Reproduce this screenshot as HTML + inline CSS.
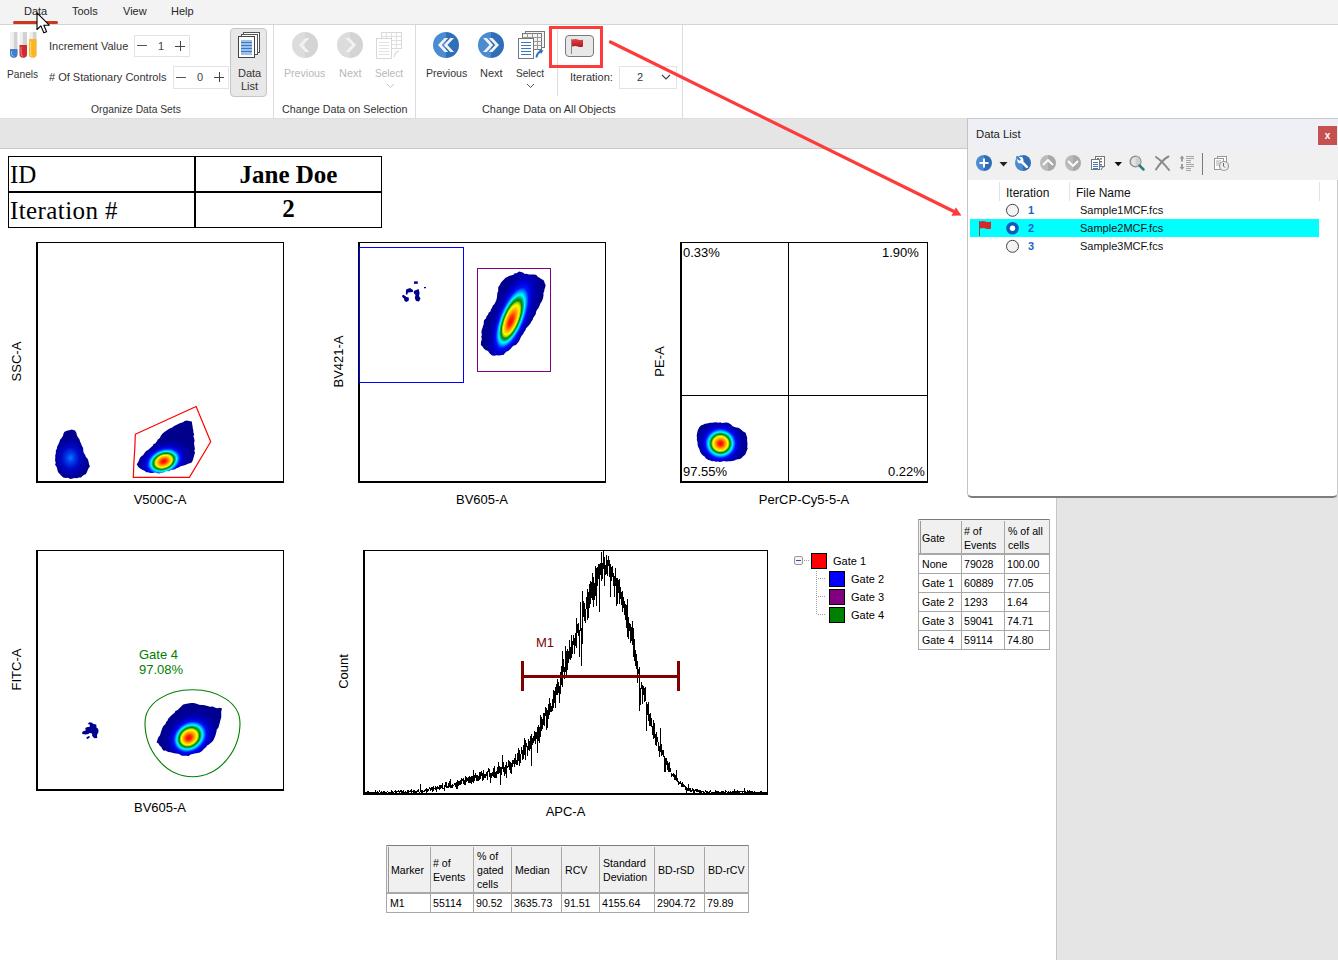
<!DOCTYPE html>
<html><head><meta charset="utf-8">
<style>
html,body{margin:0;padding:0}
body{width:1338px;height:960px;overflow:hidden;position:relative;background:#fff;font-family:"Liberation Sans",sans-serif;color:#222}
.a{position:absolute;white-space:nowrap}
.menu{left:0;top:0;width:1338px;height:24px;background:#f3f3f3;border-bottom:1px solid #d5d5d5}
.ribbon{left:0;top:25px;width:1338px;height:93px;background:#fff;border-bottom:1px solid #dedede}
.graybar{left:0;top:119px;width:1338px;height:29px;background:#e5e5e5;border-bottom:1px solid #c8c8c8}
.rightgray{left:1056px;top:149px;width:282px;height:811px;background:#e5e5e5;border-left:1px solid #c6c6c6}
.mt{font-size:11px;top:5px;color:#262626}
.rt{font-size:11px;color:#333}
.sep{width:1px;background:#dcdcdc}
.spin{border:1px solid #e3e3e3;background:#fff}
.lbl{font-size:13px;color:#000}
.plot{border-left:2px solid #000;border-bottom:2px solid #000;border-top:1px solid #000;border-right:1px solid #000;box-sizing:border-box}
table.g{border-collapse:collapse;font-size:11px;color:#000}
</style></head><body>
<div class="a menu"></div>
<div class="a mt" style="left:24px">Data</div>
<div class="a mt" style="left:72px">Tools</div>
<div class="a mt" style="left:123px">View</div>
<div class="a mt" style="left:171px">Help</div>
<div class="a" style="left:13px;top:21px;width:45px;height:3px;background:#c9391c;border-radius:2px"></div>
<div class="a ribbon"></div>
<div class="a graybar"></div>
<!-- cursor -->
<!-- Panels tubes -->
<svg class="a" style="left:9px;top:31px" width="30" height="29" viewBox="0 0 30 29">
 <defs>
  <linearGradient id="tg" x1="0" x2="1"><stop offset="0" stop-color="#f2f2f2"/><stop offset="0.5" stop-color="#ececec"/><stop offset="0.5" stop-color="#d2d2d2"/><stop offset="1" stop-color="#d2d2d2"/></linearGradient>
 </defs>
 <path d="M1 1h7.5v22a3.75 3.75 0 0 1-7.5 0z" fill="url(#tg)"/>
 <path d="M1 18h7.5v5a3.75 3.75 0 0 1-7.5 0z" fill="#3f80c9"/>
 <path d="M10.5 1h7.5v22a3.75 3.75 0 0 1-7.5 0z" fill="url(#tg)"/>
 <path d="M10.5 14h7.5v9a3.75 3.75 0 0 1-7.5 0z" fill="#cf2a2f"/>
 <path d="M20 1h7.5v22a3.75 3.75 0 0 1-7.5 0z" fill="url(#tg)"/>
 <path d="M20 8h7.5v15a3.75 3.75 0 0 1-7.5 0z" fill="#fbb624"/>
 <path d="M2.6 20v3.2a2.2 2.2 0 0 0 2 2" stroke="#fff" stroke-opacity=".45" fill="none" stroke-width="1"/>
 <path d="M12.1 16v7.2a2.2 2.2 0 0 0 2 2" stroke="#fff" stroke-opacity=".45" fill="none" stroke-width="1"/>
 <path d="M21.6 10v13.2a2.2 2.2 0 0 0 2 2" stroke="#fff" stroke-opacity=".45" fill="none" stroke-width="1"/>
</svg>
<div class="a rt" style="left:7px;top:69px;font-size:10.2px">Panels</div>
<div class="a rt" style="left:49px;top:40px">Increment Value</div>
<div class="a rt" style="left:49px;top:71px"># Of Stationary Controls</div>
<div class="a spin" style="left:134px;top:35px;width:54px;height:20px"></div>
<div class="a" style="left:137px;top:45px;width:10px;height:1px;background:#555"></div>
<div class="a rt" style="left:158px;top:40px;color:#444">1</div>
<div class="a" style="left:175px;top:46px;width:10px;height:1px;background:#444"></div>
<div class="a" style="left:180px;top:41px;width:1px;height:10px;background:#444"></div>
<div class="a spin" style="left:173px;top:66px;width:54px;height:21px"></div>
<div class="a" style="left:176px;top:77px;width:10px;height:1px;background:#555"></div>
<div class="a rt" style="left:197px;top:71px;color:#444">0</div>
<div class="a" style="left:214px;top:77px;width:10px;height:1px;background:#444"></div>
<div class="a" style="left:219px;top:72px;width:1px;height:10px;background:#444"></div>
<div class="a" style="left:230px;top:28px;width:35px;height:67px;background:#e8e8e8;border:1px solid #c6c6c6;border-radius:4px"></div>
<svg class="a" style="left:237px;top:31px" width="24" height="28" viewBox="0 0 24 28">
 <rect x="6.5" y="1.5" width="16" height="20" fill="#fff" stroke="#555"/>
 <rect x="4.5" y="3.5" width="16" height="20" fill="#fff" stroke="#555"/>
 <rect x="1.5" y="5.5" width="16" height="21" fill="#fff" stroke="#444"/>
 <rect x="4" y="9" width="11" height="15" fill="#9cc0e8"/>
 <g stroke="#3b78c4" stroke-width="1"><path d="M4 11.5h11M4 14.5h11M4 17.5h11M4 20.5h11"/></g>
</svg>
<div class="a rt" style="left:238px;top:67px">Data</div>
<div class="a rt" style="left:241px;top:80px">List</div>
<div class="a rt" style="left:91px;top:104px;font-size:10.3px">Organize Data Sets</div>
<div class="a sep" style="left:273px;top:25px;height:93px"></div>
<!-- group 2 disabled -->
<svg class="a" style="left:292px;top:32px" width="26" height="26" viewBox="0 0 26 26">
 <path d="M13 0a13 13 0 0 0 0 26z" fill="#dcdcdc"/><path d="M13 0a13 13 0 0 1 0 26z" fill="#d4d4d4"/>
 <path d="M13.5 6 L7 13 L13.5 20 L17.5 20 L11 13 L17.5 6z" fill="#f2f2f2"/>
</svg>
<svg class="a" style="left:337px;top:32px" width="26" height="26" viewBox="0 0 26 26">
 <path d="M13 0a13 13 0 0 0 0 26z" fill="#dcdcdc"/><path d="M13 0a13 13 0 0 1 0 26z" fill="#d4d4d4"/>
 <path d="M12.5 6 L19 13 L12.5 20 L8.5 20 L15 13 L8.5 6z" fill="#f2f2f2"/>
</svg>
<svg class="a" style="left:375px;top:32px" width="28" height="27" viewBox="0 0 28 27">
 <g fill="#fff" stroke="#d8d8d8"><rect x="6.5" y="0.5" width="20" height="16"/></g>
 <g stroke="#e0e0e0"><path d="M6.5 4.5h20M6.5 8.5h20M6.5 12.5h20M11.5 .5v16M16.5 .5v16M21.5 .5v16"/></g>
 <rect x="1.5" y="6.5" width="15" height="20" fill="#fff" stroke="#d8d8d8"/>
 <g stroke="#e2e2e2"><path d="M4 10.5h10M4 13.5h10M4 16.5h10M4 19.5h10M4 22.5h10"/></g>
 <path d="M19 25 q1-5 5-6" stroke="#e0e0e0" stroke-width="1.5" fill="none"/>
</svg>
<div class="a rt" style="left:284px;top:67px;color:#b8b8b8;font-size:10.6px">Previous</div>
<div class="a rt" style="left:339px;top:67px;color:#b8b8b8">Next</div>
<div class="a rt" style="left:375px;top:68px;color:#b8b8b8;font-size:10.1px">Select</div>
<svg class="a" style="left:386px;top:83px" width="9" height="6"><path d="M1 1l3.5 3.5L8 1" stroke="#c8c8c8" fill="none"/></svg>
<div class="a rt" style="left:282px;top:103px;font-size:10.75px">Change Data on Selection</div>
<div class="a sep" style="left:415px;top:25px;height:93px"></div>
<!-- group 3 -->
<svg class="a" style="left:433px;top:32px" width="26" height="26" viewBox="0 0 26 26">
 <path d="M13 0a13 13 0 0 0 0 26z" fill="#4a8bd2"/><path d="M13 0a13 13 0 0 1 0 26z" fill="#2f6fb8"/>
 <path d="M11.5 6 L5 13 L11.5 20 L15.2 20 L8.7 13 L15.2 6z" fill="#f2f2f2"/>
 <path d="M17.3 6 L10.8 13 L17.3 20 L21 20 L14.5 13 L21 6z" fill="#f2f2f2"/>
</svg>
<svg class="a" style="left:478px;top:32px" width="26" height="26" viewBox="0 0 26 26">
 <path d="M13 0a13 13 0 0 0 0 26z" fill="#4a8bd2"/><path d="M13 0a13 13 0 0 1 0 26z" fill="#2f6fb8"/>
 <path d="M14.5 6 L21 13 L14.5 20 L10.8 20 L17.3 13 L10.8 6z" fill="#f2f2f2"/>
 <path d="M8.7 6 L15.2 13 L8.7 20 L5 20 L11.5 13 L5 6z" fill="#f2f2f2"/>
</svg>
<svg class="a" style="left:517px;top:31px" width="29" height="28" viewBox="0 0 29 28">
 <g fill="#f4f4f4" stroke="#777"><rect x="8.5" y="0.5" width="19" height="16"/><rect x="5.5" y="2.5" width="19" height="16"/></g>
 <g stroke="#999"><path d="M5.5 6.5h19M5.5 10.5h19M5.5 14.5h19M10.5 2.5v16M15.5 2.5v16M20.5 2.5v16"/></g>
 <rect x="1.5" y="7.5" width="15" height="20" fill="#fff" stroke="#777"/>
 <g stroke="#3b78c4"><path d="M4 11.5h10M4 14.5h10M4 17.5h10M4 20.5h10M4 23.5h10"/></g>
 <path d="M19.5 26.5 q.5-5 5-6.5" stroke="#2f73c4" stroke-width="2" fill="none"/><path d="M22 18.5l4.5 1-2.5 3.5z" fill="#2f73c4"/>
</svg>
<div class="a rt" style="left:426px;top:67px;font-size:10.6px">Previous</div>
<div class="a rt" style="left:480px;top:67px">Next</div>
<div class="a rt" style="left:516px;top:68px;font-size:10.1px">Select</div>
<svg class="a" style="left:526px;top:83px" width="9" height="6"><path d="M1 1l3.5 3.5L8 1" stroke="#555" fill="none"/></svg>
<div class="a rt" style="left:482px;top:103px;font-size:10.9px">Change Data on All Objects</div>
<div class="a sep" style="left:557px;top:30px;height:66px"></div>
<div class="a" style="left:565px;top:35px;width:27px;height:20px;background:#e8e8e8;border:1px solid #7a7a7a;border-radius:4px"></div>
<svg class="a" style="left:570px;top:38px" width="16" height="17" viewBox="0 0 16 17">
 <defs><linearGradient id="fl" x1="0" y1="0" x2="0" y2="1"><stop offset="0" stop-color="#e0454b"/><stop offset="1" stop-color="#b8141c"/></linearGradient></defs>
 <rect x="1" y="1" width="1" height="15" fill="#888"/>
 <path d="M2 1.5 q3-1 6 0 t5 0 v7 q-2.5 1-5 0 t-6 0z" fill="url(#fl)"/>
</svg>
<div class="a" style="left:549px;top:26px;width:48px;height:36px;border:3px solid #ff3a3a"></div>
<div class="a rt" style="left:570px;top:71px">Iteration:</div>
<div class="a spin" style="left:619px;top:66px;width:56px;height:21px"></div>
<div class="a rt" style="left:637px;top:71px;color:#333">2</div>
<svg class="a" style="left:661px;top:74px" width="10" height="7"><path d="M1 1l4 4 4-4" stroke="#444" fill="none" stroke-width="1.2"/></svg>
<div class="a sep" style="left:682px;top:25px;height:93px"></div>

<div class="a rightgray"></div>

<!-- Data List panel -->
<div class="a" style="left:967px;top:118px;width:369px;height:377px;background:#fff;border-left:1px solid #c4c4c4;border-right:1px solid #c8c8c8;border-top:1px solid #c8c8c8;border-bottom:2px solid #7e7e7e;border-radius:0 0 5px 5px"></div>
<div class="a" style="left:968px;top:119px;width:370px;height:30px;background:#eff0f5"></div>
<div class="a" style="left:976px;top:128px;font-size:11.3px;color:#1a1a1a">Data List</div>
<div class="a" style="left:1318px;top:126px;width:19px;height:19px;background:#c64f50"></div>
<div class="a" style="left:1318px;top:128px;width:19px;text-align:center;font-size:10px;font-weight:bold;color:#fff;line-height:16px">x</div>
<div class="a" style="left:968px;top:149px;width:370px;height:31px;background:#f0f0f0"></div>
<svg class="a" style="left:968px;top:149px" width="370" height="32" viewBox="968 149 370 32">
 <path d="M984 155a8 8 0 0 0 0 16z" fill="#4b8bd3"/><path d="M984 155a8 8 0 0 1 0 16z" fill="#2f6db5"/>
 <path d="M983 158.5h2v3.5h3.5v2h-3.5v3.5h-2v-3.5h-3.5v-2h3.5z" fill="#fff"/>
 <path d="M999.5 162h8l-4 4.5z" fill="#222"/>
 <path d="M1023 155a8 8 0 0 0 0 16z" fill="#4b8bd3"/><path d="M1023 155a8 8 0 0 1 0 16z" fill="#2f6db5"/>
 <path d="M1021.5 161.5 L1026.8 166.8" stroke="#fff" stroke-width="2.6" stroke-linecap="round"/><circle cx="1020.3" cy="160.2" r="3.1" fill="#fff"/><path d="M1017.2 157.1 L1019.6 159.5" stroke="#3f80c8" stroke-width="2.2" stroke-linecap="round"/>
 <path d="M1048 155a8 8 0 0 0 0 16z" fill="#bababa"/><path d="M1048 155a8 8 0 0 1 0 16z" fill="#a9a9a9"/>
 <path d="M1043 165l5-5 5 5" stroke="#fff" stroke-width="1.8" fill="none"/>
 <path d="M1073 155a8 8 0 0 0 0 16z" fill="#bababa"/><path d="M1073 155a8 8 0 0 1 0 16z" fill="#a9a9a9"/>
 <path d="M1068 161l5 5 5-5" stroke="#fff" stroke-width="1.8" fill="none"/>
 <rect x="1095.5" y="156.5" width="9" height="10" fill="#fff" stroke="#777"/>
 <g fill="#777"><rect x="1097" y="158" width="2" height="1.5"/><rect x="1100" y="158" width="2" height="1.5"/><rect x="1100" y="161" width="2" height="1.5"/><rect x="1100" y="164" width="2" height="1.5"/></g>
 <rect x="1091.5" y="159.5" width="8" height="10" fill="#fff" stroke="#777"/>
 <g stroke="#3b78c4"><path d="M1093 162.5h5M1093 164.5h5M1093 166.5h5M1093 168.5h5"/></g>
 <path d="M1101 170q1-3 3-3.5" stroke="#3b78c4" fill="none"/>
 <path d="M1114.5 162h7.5l-3.75 4.2z" fill="#111"/>
 <circle cx="1135.5" cy="161.5" r="5.3" fill="#e4e4e4" stroke="#8e8e8e" stroke-width="1.5"/>
 <path d="M1135.5 156.5a5 5 0 0 1 0 10z" fill="#cfcfcf"/>
 <path d="M1139.5 165.5l4 4" stroke="#2e7f7b" stroke-width="2.5" stroke-linecap="round"/>
 <path d="M1156 157q6 4 13 13M1168.5 156.5q-6 3-12.5 13" stroke="#8a8a8a" stroke-width="2" fill="none" stroke-linecap="round"/>
 <path d="M1182 155.5l2.5 3h-1.5v3h-2v-3h-1.5z M1182 170l2.5-3h-1.5v-3h-2v3h-1.5z" fill="#9a9a9a"/>
 <g stroke="#a6a6a6"><path d="M1186 156.5h8M1186 158.5h8M1186 160.5h5M1186 162.5h5M1186 164.5h8M1186 166.5h8M1186 168.5h5M1186 170.5h5"/></g>
 <rect x="1202" y="153" width="1" height="22" fill="#7a7a7a"/>
 <rect x="1217.5" y="156.5" width="9" height="10" fill="#fff" stroke="#999"/>
 <rect x="1214.5" y="158.5" width="9" height="11" fill="#fff" stroke="#999"/>
 <g stroke="#aaa"><path d="M1216 161h5M1216 163h5M1216 165h4"/></g>
 <circle cx="1224" cy="166" r="4.5" fill="#eee" stroke="#999" stroke-width="1.2"/>
 <path d="M1223.5 163v3l1.5 1.5" stroke="#666" fill="none"/>
</svg>
<div class="a" style="left:999px;top:182px;width:1px;height:19px;background:#e2e2e2"></div>
<div class="a" style="left:1069px;top:182px;width:1px;height:19px;background:#e2e2e2"></div>
<div class="a" style="left:1319px;top:182px;width:1px;height:19px;background:#e2e2e2"></div>
<div class="a" style="left:1006px;top:186px;font-size:12px;color:#111">Iteration</div>
<div class="a" style="left:1076px;top:186px;font-size:12px;color:#111">File Name</div>
<div class="a" style="left:970px;top:219px;width:349px;height:18px;background:#00ffff"></div>
<svg class="a" style="left:968px;top:200px" width="120" height="60" viewBox="968 200 120 60">
 <circle cx="1012.5" cy="210.3" r="6" fill="#f4f4f4" stroke="#444" stroke-width="1"/>
 <circle cx="1012.5" cy="228.3" r="6.3" fill="#0f5bb5"/>
 <circle cx="1012.5" cy="228.3" r="2.7" fill="#fff"/>
 <circle cx="1012.5" cy="246.3" r="6" fill="#f4f4f4" stroke="#444" stroke-width="1"/>
 <rect x="979" y="221" width="1" height="15" fill="#7a5050"/>
 <path d="M980 221.5q3-1 5.5 0t5.5 0v7q-2.7 1-5.5 0t-5.5 0z" fill="#d42a2a"/>
</svg>
<div class="a" style="left:1028px;top:204px;font-size:11px;font-weight:bold;color:#1a64d2">1</div>
<div class="a" style="left:1028px;top:222px;font-size:11px;font-weight:bold;color:#1a64d2">2</div>
<div class="a" style="left:1028px;top:240px;font-size:11px;font-weight:bold;color:#1a64d2">3</div>
<div class="a" style="left:1080px;top:204px;font-size:11px;color:#111">Sample1MCF.fcs</div>
<div class="a" style="left:1080px;top:222px;font-size:11px;color:#111">Sample2MCF.fcs</div>
<div class="a" style="left:1080px;top:240px;font-size:11px;color:#111">Sample3MCF.fcs</div>
<!-- arrow -->
<svg class="a" style="left:0;top:0" width="1338" height="960" viewBox="0 0 1338 960">
 <line x1="610.5" y1="42" x2="955" y2="212" stroke="#fe3b3b" stroke-width="3.2" stroke-linecap="round"/>
 <path d="M961.5 215.5 L951.5 215.8 L955.8 207.2z" fill="#fe3b3b"/>
</svg>
<!--PLOTS--><svg class="a" style="left:0;top:0" width="1338" height="960" viewBox="0 0 1338 960"><defs><radialGradient id="g1a" gradientUnits="userSpaceOnUse" cx="0" cy="0" r="1" fx="0" fy="0" gradientTransform="translate(70.5 458) rotate(0) scale(18 22)"><stop offset="0" stop-color="#0080ff"/><stop offset="0.2" stop-color="#0040f0"/><stop offset="0.5" stop-color="#0008c4"/><stop offset="0.8" stop-color="#0000a0"/><stop offset="1" stop-color="#00008c"/></radialGradient><radialGradient id="g1b" gradientUnits="userSpaceOnUse" cx="0" cy="0" r="1" fx="0" fy="0" gradientTransform="translate(163.8 461.3) rotate(-22) scale(30 21)"><stop offset="0.0" stop-color="#ff0000"/><stop offset="0.09" stop-color="#ff2800"/><stop offset="0.19" stop-color="#ffa000"/><stop offset="0.27" stop-color="#ffff00"/><stop offset="0.315" stop-color="#90d000"/><stop offset="0.35" stop-color="#008400"/><stop offset="0.395" stop-color="#00b080"/><stop offset="0.44" stop-color="#00ffff"/><stop offset="0.49" stop-color="#00a0ff"/><stop offset="0.56" stop-color="#0010ff"/><stop offset="0.66" stop-color="#0000cc"/><stop offset="0.8" stop-color="#0000a4"/><stop offset="1.0" stop-color="#00008c"/></radialGradient><radialGradient id="g2" gradientUnits="userSpaceOnUse" cx="0" cy="0" r="1" fx="-0.14" fy="0" gradientTransform="translate(513.5 314.5) rotate(-68) scale(58 21)"><stop offset="0.0" stop-color="#ff0000"/><stop offset="0.09" stop-color="#ff2800"/><stop offset="0.19" stop-color="#ffa000"/><stop offset="0.27" stop-color="#ffff00"/><stop offset="0.315" stop-color="#90d000"/><stop offset="0.35" stop-color="#008400"/><stop offset="0.395" stop-color="#00b080"/><stop offset="0.44" stop-color="#00ffff"/><stop offset="0.49" stop-color="#00a0ff"/><stop offset="0.56" stop-color="#0010ff"/><stop offset="0.66" stop-color="#0000cc"/><stop offset="0.8" stop-color="#0000a4"/><stop offset="1.0" stop-color="#00008c"/></radialGradient><radialGradient id="g3" gradientUnits="userSpaceOnUse" cx="0" cy="0" r="1" fx="0" fy="0" gradientTransform="translate(720.5 443.5) rotate(0) scale(27 26)"><stop offset="0.0" stop-color="#ff0000"/><stop offset="0.09" stop-color="#ff2800"/><stop offset="0.19" stop-color="#ffa000"/><stop offset="0.27" stop-color="#ffff00"/><stop offset="0.315" stop-color="#90d000"/><stop offset="0.35" stop-color="#008400"/><stop offset="0.395" stop-color="#00b080"/><stop offset="0.44" stop-color="#00ffff"/><stop offset="0.49" stop-color="#00a0ff"/><stop offset="0.56" stop-color="#0010ff"/><stop offset="0.66" stop-color="#0000cc"/><stop offset="0.8" stop-color="#0000a4"/><stop offset="1.0" stop-color="#00008c"/></radialGradient><radialGradient id="g4" gradientUnits="userSpaceOnUse" cx="0" cy="0" r="1" fx="-0.1" fy="0" gradientTransform="translate(191 736) rotate(-38) scale(31 25)"><stop offset="0.0" stop-color="#ff0000"/><stop offset="0.09" stop-color="#ff2800"/><stop offset="0.19" stop-color="#ffa000"/><stop offset="0.27" stop-color="#ffff00"/><stop offset="0.315" stop-color="#90d000"/><stop offset="0.35" stop-color="#008400"/><stop offset="0.395" stop-color="#00b080"/><stop offset="0.44" stop-color="#00ffff"/><stop offset="0.49" stop-color="#00a0ff"/><stop offset="0.56" stop-color="#0010ff"/><stop offset="0.66" stop-color="#0000cc"/><stop offset="0.8" stop-color="#0000a4"/><stop offset="1.0" stop-color="#00008c"/></radialGradient></defs><rect x="36" y="242" width="248" height="1" fill="#000"/><rect x="36" y="242" width="2" height="241" fill="#000"/><rect x="283" y="242" width="1" height="241" fill="#000"/><rect x="36" y="481" width="248" height="2" fill="#000"/><path d="M71.7 429.5 L69.5 430.3 L67.5 430.4 L64.5 431.8 L63.5 433.4 L63.0 435.7 L61.6 437.9 L60.1 439.7 L59.1 442.7 L58.0 444.9 L57.2 446.6 L56.8 449.1 L55.8 450.5 L55.9 453.0 L55.2 455.4 L55.3 457.4 L55.1 459.3 L55.2 461.4 L55.8 462.6 L55.1 464.7 L56.8 467.3 L57.3 469.5 L58.0 471.9 L59.5 473.8 L61.4 475.7 L63.2 477.4 L65.7 478.0 L67.8 477.7 L70.4 479.0 L72.7 478.4 L74.7 478.0 L77.1 478.2 L78.8 477.6 L81.1 477.5 L82.1 476.3 L84.2 474.7 L85.8 474.3 L87.2 471.5 L87.9 469.5 L88.8 467.8 L89.9 466.5 L89.0 464.0 L88.3 460.6 L87.4 458.5 L85.9 456.9 L85.1 454.7 L83.8 453.1 L83.3 451.0 L83.1 448.1 L82.0 446.0 L81.1 443.8 L80.1 441.6 L79.4 439.3 L77.9 437.2 L76.7 434.8 L76.5 433.0 L75.0 430.5Z" fill="url(#g1a)"/><path d="M136.7 464.2 L138.1 466.7 L139.8 468.3 L142.7 470.1 L144.5 470.8 L146.3 472.3 L148.1 472.2 L150.2 473.1 L152.9 473.1 L155.0 472.6 L156.6 473.1 L159.1 473.5 L161.4 472.8 L163.0 472.8 L164.9 471.7 L166.8 471.0 L169.2 471.2 L170.8 470.0 L173.1 469.7 L175.0 469.3 L176.5 468.2 L178.6 467.5 L180.1 466.6 L182.6 465.7 L183.8 465.5 L186.0 464.7 L188.1 463.8 L190.6 462.9 L191.9 462.2 L193.0 459.8 L193.5 457.7 L194.3 455.1 L195.0 452.6 L194.2 450.7 L195.0 449.1 L194.5 446.8 L194.3 444.8 L194.0 442.9 L194.6 441.0 L194.3 438.9 L193.4 436.1 L194.2 434.4 L193.4 432.4 L193.3 430.3 L192.7 427.7 L192.5 425.6 L192.2 424.5 L191.8 421.5 L188.9 421.0 L187.0 420.5 L184.5 421.1 L183.1 422.3 L180.4 422.9 L178.2 423.9 L176.8 424.7 L174.1 426.0 L172.3 427.6 L170.2 428.2 L168.8 429.1 L167.0 430.3 L164.4 432.0 L162.4 433.8 L160.7 436.1 L160.0 437.7 L157.9 439.5 L156.7 441.4 L155.2 443.4 L153.5 444.0 L152.8 445.8 L151.3 447.0 L149.7 448.6 L148.0 450.0 L146.1 451.0 L144.2 453.4 L143.2 455.1 L141.1 456.4 L139.9 458.0 L139.0 460.2 L138.0 462.6Z" fill="url(#g1b)"/><path d="M135.30 434.30 L196.10 406.50 L210.70 441.70 L189.40 477.40 L133.30 477.40 L133.80 464.60 L134.90 446.40Z" fill="none" stroke="#ff0000" stroke-width="1.2"/><rect x="358" y="242" width="248" height="1" fill="#000"/><rect x="358" y="242" width="2" height="241" fill="#000"/><rect x="605" y="242" width="1" height="241" fill="#000"/><rect x="358" y="481" width="248" height="2" fill="#000"/><rect x="359.5" y="247.5" width="104" height="135" fill="none" stroke="#0000ff" stroke-width="1"/><rect x="477.5" y="268.5" width="73" height="103" fill="none" stroke="#800080" stroke-width="1"/><path d="M414.00 281.40 L417.80 281.40 L417.80 283.80 L414.00 283.80Z" fill="#000090"/><path d="M424.00 287.00 L426.00 287.00 L426.00 288.20 L424.00 288.20Z" fill="#000090"/><path d="M406.10 289.60 L410.00 288.00 L413.00 290.00 L412.80 292.00 L408.00 292.50 L407.00 295.00 L405.80 294.00Z" fill="#000090"/><path d="M413.80 291.00 L418.60 289.00 L419.60 293.00 L419.00 296.00 L420.50 298.50 L419.00 301.50 L416.00 301.00 L414.80 298.00 L415.50 295.00 L413.80 293.00Z" fill="#000090"/><path d="M402.20 295.50 L403.50 294.80 L406.50 297.00 L408.80 297.50 L408.80 300.50 L406.50 302.00 L404.50 301.00 L404.00 298.50 L402.20 297.00Z" fill="#000090"/><path d="M544.1 280.8 L542.3 279.6 L540.2 278.2 L537.5 276.4 L536.4 275.1 L534.1 274.4 L531.3 274.4 L529.0 274.6 L526.5 273.7 L524.8 273.9 L523.3 272.7 L521.3 272.1 L519.1 271.6 L516.5 273.2 L514.7 273.3 L513.5 274.7 L510.8 275.6 L509.0 276.1 L506.7 277.2 L505.2 278.0 L504.2 279.2 L502.4 280.9 L500.9 282.7 L499.8 285.1 L498.3 287.1 L498.2 288.7 L498.2 290.9 L497.3 293.0 L497.2 294.6 L497.0 297.0 L496.3 300.3 L495.1 302.8 L494.3 304.3 L492.9 305.4 L491.9 308.1 L490.8 309.6 L490.4 311.4 L488.8 312.6 L487.9 314.8 L486.4 316.5 L486.1 318.3 L484.2 320.1 L483.8 321.6 L483.7 324.2 L482.9 326.3 L482.6 327.8 L481.8 329.7 L481.4 331.9 L481.9 335.1 L481.3 336.4 L481.8 339.5 L481.0 341.8 L480.9 345.0 L482.5 346.4 L483.8 348.6 L485.5 350.0 L488.0 351.0 L489.5 353.2 L491.0 354.5 L492.1 355.5 L494.3 355.8 L496.7 355.2 L499.5 355.5 L501.7 354.9 L503.4 355.0 L505.0 353.1 L506.6 351.5 L508.2 350.9 L510.5 349.1 L511.9 347.3 L513.3 345.8 L515.9 344.9 L517.4 343.3 L518.9 341.4 L519.8 339.6 L520.6 337.7 L521.6 335.7 L523.2 334.0 L523.8 332.4 L525.4 330.3 L526.0 328.5 L527.6 326.8 L529.0 325.2 L530.5 323.3 L531.4 321.4 L532.7 319.7 L533.3 317.8 L534.7 315.8 L535.7 314.2 L536.1 311.9 L536.7 310.3 L538.5 307.9 L539.4 306.0 L540.5 303.3 L541.7 301.6 L542.7 299.3 L543.1 297.7 L543.5 295.6 L543.4 293.0 L544.2 291.5 L544.4 289.5 L545.3 286.9 L545.6 285.0 L544.4 282.6Z" fill="url(#g2)"/><rect x="680" y="242" width="248" height="1" fill="#000"/><rect x="680" y="242" width="2" height="241" fill="#000"/><rect x="927" y="242" width="1" height="241" fill="#000"/><rect x="680" y="481" width="248" height="2" fill="#000"/><rect x="681" y="395" width="246" height="1" fill="#000"/><rect x="788" y="243" width="1" height="238" fill="#000"/><path d="M697.8 430.3 L699.2 427.5 L700.5 425.7 L703.0 424.8 L704.9 423.8 L707.1 423.5 L709.9 422.7 L712.0 422.7 L713.7 422.6 L716.3 422.3 L718.3 422.7 L720.3 422.3 L721.6 422.9 L724.3 422.7 L725.6 422.6 L728.1 422.8 L731.0 424.6 L732.7 426.2 L735.2 427.3 L738.1 427.7 L740.1 428.7 L742.1 430.5 L743.2 431.4 L745.6 432.8 L746.3 434.9 L747.2 437.7 L747.1 440.2 L747.3 441.9 L747.5 444.1 L747.2 447.1 L747.7 448.5 L746.9 450.5 L745.7 453.4 L745.1 454.8 L743.2 456.2 L741.3 458.2 L739.6 458.9 L738.2 459.3 L736.5 459.5 L734.5 460.6 L732.2 461.0 L729.9 461.3 L728.3 461.2 L726.0 461.5 L723.9 461.1 L722.2 461.4 L720.0 462.1 L717.7 461.5 L715.6 461.7 L713.9 461.0 L712.0 461.2 L709.8 460.3 L708.4 460.1 L706.0 458.5 L704.5 456.6 L702.6 455.3 L701.3 453.8 L700.2 452.1 L699.4 449.2 L698.1 446.8 L697.6 444.7 L697.6 442.8 L696.8 439.5 L697.0 437.6 L696.7 436.3 L696.9 434.2 L697.3 432.4Z" fill="url(#g3)"/><rect x="36" y="550" width="248" height="1" fill="#000"/><rect x="36" y="550" width="2" height="241" fill="#000"/><rect x="283" y="550" width="1" height="241" fill="#000"/><rect x="36" y="789" width="248" height="2" fill="#000"/><path d="M156.6 742.5 L157.4 740.1 L158.2 737.4 L160.0 735.3 L160.5 733.4 L161.2 731.2 L161.8 729.4 L162.8 727.1 L163.8 725.4 L165.3 724.3 L166.3 721.8 L167.3 720.9 L168.2 718.8 L169.6 717.2 L171.0 715.8 L172.7 714.3 L174.6 712.8 L175.4 710.9 L177.7 709.9 L178.5 708.9 L180.4 707.3 L182.2 705.4 L183.2 704.6 L185.4 704.0 L187.9 703.4 L191.0 703.1 L193.3 703.1 L194.8 703.2 L197.3 704.0 L199.1 704.8 L201.7 705.0 L203.5 705.0 L205.5 705.5 L207.7 706.0 L209.8 706.8 L212.3 706.5 L213.8 706.9 L216.0 708.0 L217.6 708.2 L219.6 707.8 L222.1 708.5 L221.3 710.9 L221.2 713.1 L221.3 715.4 L221.2 717.5 L220.6 719.6 L219.9 722.0 L219.4 724.2 L218.8 726.1 L218.5 727.4 L216.8 729.5 L216.4 731.9 L216.0 733.6 L215.5 735.3 L214.6 737.4 L213.9 739.2 L212.5 741.5 L211.0 742.8 L208.6 744.7 L207.4 745.3 L206.0 747.3 L204.4 748.4 L202.5 750.4 L201.4 751.4 L199.2 752.7 L197.3 753.1 L194.8 753.6 L192.5 754.1 L190.6 754.6 L188.7 755.9 L186.4 755.8 L184.1 755.7 L181.8 755.7 L180.4 754.7 L178.3 753.8 L175.8 753.6 L174.2 753.2 L171.4 752.6 L170.3 752.2 L168.2 751.9 L165.5 750.6 L163.7 750.8 L162.2 749.1 L161.3 747.0 L159.7 745.8 L158.5 743.5Z" fill="url(#g4)"/><path d="M88.25 723.00 L89.75 722.25 L92.00 722.75 L93.50 724.00 L96.25 724.50 L96.50 727.50 L98.25 729.00 L98.50 732.00 L97.00 735.00 L97.25 738.00 L94.25 738.25 L92.25 736.00 L92.00 733.50 L89.25 733.00 L88.50 734.00 L85.50 734.50 L82.25 734.00 L82.25 732.00 L83.75 731.00 L85.75 730.50 L85.25 728.25 L86.50 727.25 L89.75 726.75 L89.75 724.50 L88.25 724.25Z" fill="#000090"/><path d="M86.25 737.50 L88.75 736.00 L90.25 737.00 L88.00 738.75 L87.00 739.00Z" fill="#000090"/><path d="M192.5 689.8 C218 689.8 240 703 240 723 C240 750 220 776.7 192.5 776.7 C165 776.7 145 750 145 723 C145 703 167 689.8 192.5 689.8Z" fill="none" stroke="#008000" stroke-width="1.1"/><rect x="363" y="550" width="405" height="1" fill="#000"/><rect x="363" y="550" width="2" height="245" fill="#000"/><rect x="767" y="550" width="1" height="245" fill="#000"/><rect x="363" y="793" width="405" height="2" fill="#000"/><path d="M365.5 792.2V793.2M366.5 791.7V792.7M367.5 791.1V792.6M368.5 791.2V792.6M369.5 792.4V793.4M370.5 791.9V792.9M371.5 791.7V792.7M372.5 792.3V793.3M373.5 792.3V793.3M374.5 792.1V793.1M375.5 790.1V792.6M376.5 792.1V793.1M377.5 791.4V792.6M378.5 791.6V792.6M379.5 790.2V792.2M380.5 791.5V792.6M381.5 791.1V792.6M382.5 791.6V792.6M383.5 791.4V792.6M384.5 791.3V792.6M385.5 791.7V792.7M386.5 791.6V792.6M387.5 790.9V792.4M388.5 791.6V792.6M389.5 791.5V792.5M390.5 791.9V792.9M391.5 790.3V792.6M392.5 790.5V792.6M393.5 791.6V792.6M394.5 791.0V792.4M395.5 790.3V792.6M396.5 791.0V792.6M397.5 791.1V792.4M398.5 790.2V791.6M399.5 790.7V792.6M400.5 790.4V792.4M401.5 790.0V792.6M402.5 790.6V792.6M403.5 790.3V792.6M404.5 792.1V793.1M405.5 790.8V792.6M406.5 791.7V792.7M407.5 789.9V792.6M408.5 789.7V792.6M409.5 791.1V792.2M410.5 789.6V792.2M411.5 789.1V792.6M412.5 790.7V792.0M413.5 789.8V792.6M414.5 790.0V792.6M415.5 790.9V792.6M416.5 790.5V792.6M417.5 789.8V792.3M418.5 788.8V791.7M419.5 791.5V792.5M420.5 784.4V791.6M421.5 789.9V792.6M422.5 789.7V792.6M423.5 790.5V792.2M424.5 789.8V791.5M425.5 788.7V791.0M426.5 787.9V792.5M427.5 788.8V792.2M428.5 789.2V791.0M429.5 787.4V789.2M430.5 787.8V790.5M431.5 787.2V790.2M432.5 787.0V791.7M433.5 785.8V790.9M434.5 788.2V789.2M435.5 786.1V790.2M436.5 787.0V792.1M437.5 786.1V789.4M438.5 786.6V789.2M439.5 785.2V790.0M440.5 784.9V789.1M441.5 785.1V788.2M442.5 782.6V788.7M443.5 787.7V789.4M444.5 785.1V791.3M445.5 782.0V786.8M446.5 782.2V788.1M447.5 785.7V787.6M448.5 783.4V788.0M449.5 781.2V786.7M450.5 779.1V787.7M451.5 785.2V787.9M452.5 783.8V788.0M453.5 784.6V786.2M454.5 782.9V784.8M455.5 782.5V787.1M456.5 782.4V788.9M457.5 779.7V789.4M458.5 780.5V786.1M459.5 780.6V785.0M460.5 780.2V785.1M461.5 778.0V784.2M462.5 779.0V781.4M463.5 777.6V784.1M464.5 780.4V785.4M465.5 776.4V784.8M466.5 777.4V781.5M467.5 778.0V781.3M468.5 777.2V783.1M469.5 776.3V782.9M470.5 777.2V783.1M471.5 775.9V783.9M472.5 776.2V782.3M473.5 770.4V783.1M474.5 775.1V780.6M475.5 772.7V777.7M476.5 774.5V781.3M477.5 775.3V780.5M478.5 776.4V780.6M479.5 771.9V779.8M480.5 771.6V779.2M481.5 771.3V776.2M482.5 772.8V780.6M483.5 770.0V779.6M484.5 773.8V778.1M485.5 773.8V777.8M486.5 771.6V776.0M487.5 770.8V779.5M488.5 768.3V772.3M489.5 768.5V777.2M490.5 772.8V782.8M491.5 772.5V778.3M492.5 771.7V776.3M493.5 767.9V777.2M494.5 765.9V777.7M495.5 772.2V778.2M496.5 770.6V778.0M497.5 766.9V774.0M498.5 761.9V774.1M499.5 766.1V773.0M500.5 766.8V784.5M501.5 767.4V774.7M502.5 754.9V768.9M503.5 761.9V771.9M504.5 766.6V776.0M505.5 764.8V774.0M506.5 761.9V778.3M507.5 766.1V768.3M508.5 759.6V766.7M509.5 761.2V770.4M510.5 762.3V773.4M511.5 762.5V773.8M512.5 759.7V766.6M513.5 759.6V763.6M514.5 757.5V767.0M515.5 753.8V764.2M516.5 760.2V764.9M517.5 753.2V765.1M518.5 748.0V761.4M519.5 750.4V765.8M520.5 753.5V762.7M521.5 746.9V753.6M522.5 750.2V760.0M523.5 744.8V759.2M524.5 738.0V755.2M525.5 739.7V759.7M526.5 742.7V747.1M527.5 746.0V755.6M528.5 738.9V750.2M529.5 741.0V751.1M530.5 736.1V749.1M531.5 734.3V766.4M532.5 737.6V745.3M533.5 735.5V742.9M534.5 730.5V740.5M535.5 732.3V743.6M536.5 731.6V738.9M537.5 727.3V752.7M538.5 724.8V741.1M539.5 727.2V743.4M540.5 715.4V737.0M541.5 716.6V730.7M542.5 719.1V729.4M543.5 713.1V724.7M544.5 713.1V726.3M545.5 707.4V716.4M546.5 707.9V729.8M547.5 709.6V727.9M548.5 704.2V719.3M549.5 698.3V714.7M550.5 703.0V711.6M551.5 705.8V712.4M552.5 699.1V710.7M553.5 689.5V707.9M554.5 691.1V703.0M555.5 687.2V707.9M556.5 683.6V695.3M557.5 679.3V695.4M558.5 681.7V692.6M559.5 685.6V702.7M560.5 671.8V694.1M561.5 666.4V684.5M562.5 651.4V686.8M563.5 658.6V671.6M564.5 667.4V678.6M565.5 645.8V672.0M566.5 651.3V675.2M567.5 649.2V669.8M568.5 651.1V663.1M569.5 639.5V658.6M570.5 646.9V660.2M571.5 635.3V657.5M572.5 641.3V654.4M573.5 634.5V644.8M574.5 637.7V654.1M575.5 633.2V646.0M576.5 617.7V647.7M577.5 624.2V632.9M578.5 623.1V635.7M579.5 629.7V656.7M580.5 602.2V631.4M581.5 628.0V666.2M582.5 590.5V644.4M583.5 601.3V616.9M584.5 602.7V621.1M585.5 609.3V623.4M586.5 596.8V608.9M587.5 589.3V620.3M588.5 592.0V618.3M589.5 583.7V607.6M590.5 580.8V604.1M591.5 582.1V598.0M592.5 572.5V599.7M593.5 577.0V606.7M594.5 582.7V600.0M595.5 565.7V596.2M596.5 567.8V606.4M597.5 566.6V585.9M598.5 564.0V578.5M599.5 563.5V611.7M600.5 563.3V575.4M601.5 552.0V581.2M602.5 563.4V579.2M603.5 551.0V569.1M604.5 557.0V586.1M605.5 564.8V575.0M606.5 555.1V574.0M607.5 560.1V575.6M608.5 555.6V565.6M609.5 559.7V577.0M610.5 563.8V597.4M611.5 566.9V581.2M612.5 565.8V577.2M613.5 572.7V585.7M614.5 576.3V597.3M615.5 568.1V585.9M616.5 577.9V605.8M617.5 577.5V604.1M618.5 580.3V593.3M619.5 579.2V604.3M620.5 587.1V598.7M621.5 591.7V604.8M622.5 590.6V612.1M623.5 596.7V608.4M624.5 601.3V614.8M625.5 604.4V620.1M626.5 605.4V628.2M627.5 598.9V637.3M628.5 617.3V639.3M629.5 623.1V631.1M630.5 624.0V643.2M631.5 626.9V640.5M632.5 621.3V644.9M633.5 627.5V656.9M634.5 639.0V661.1M635.5 649.6V666.3M636.5 653.8V669.1M637.5 661.2V683.4M638.5 669.2V673.9M639.5 666.9V711.0M640.5 688.0V705.0M641.5 682.2V689.3M642.5 684.5V703.8M643.5 685.7V695.1M644.5 687.6V702.3M645.5 687.4V700.8M646.5 702.4V730.5M647.5 703.7V714.7M648.5 702.1V721.2M649.5 713.5V726.0M650.5 712.6V726.0M651.5 718.4V726.5M652.5 726.3V734.9M653.5 719.6V738.6M654.5 723.2V738.3M655.5 734.4V745.1M656.5 732.4V746.4M657.5 737.3V741.6M658.5 742.0V751.4M659.5 746.3V756.8M660.5 728.3V751.5M661.5 744.0V755.7M662.5 750.1V755.1M663.5 750.4V756.6M664.5 755.7V772.0M665.5 757.8V772.2M666.5 758.4V764.9M667.5 761.0V770.2M668.5 763.3V772.3M669.5 762.0V771.9M670.5 767.6V771.7M671.5 773.1V777.1M672.5 773.7V775.7M673.5 773.4V777.1M674.5 773.6V779.9M675.5 774.8V780.3M676.5 769.9V781.0M677.5 777.6V782.0M678.5 781.0V784.8M679.5 781.9V784.4M680.5 781.0V784.2M681.5 782.5V787.1M682.5 781.7V787.0M683.5 784.3V786.6M684.5 784.7V787.0M685.5 786.2V789.5M686.5 787.0V792.6M687.5 787.5V790.9M688.5 783.9V791.0M689.5 787.5V791.4M690.5 787.9V792.3M691.5 789.8V791.9M692.5 788.1V790.5M693.5 789.3V792.6M694.5 789.5V792.5M695.5 789.3V790.8M696.5 789.1V792.1M697.5 789.2V791.7M698.5 789.6V792.3M699.5 790.4V792.6M700.5 790.3V792.6M701.5 790.9V792.6M702.5 790.5V791.7M703.5 790.5V792.6M704.5 791.7V792.7M705.5 789.7V791.8M706.5 790.5V792.6M707.5 791.3V792.6M708.5 791.6V792.6M709.5 790.8V792.6M710.5 790.4V792.3M711.5 792.3V793.3M712.5 792.3V793.3M713.5 791.7V792.7M714.5 791.8V792.8M715.5 790.3V792.6M716.5 790.7V792.5M717.5 791.1V792.6M718.5 791.3V792.6M719.5 792.0V793.0M720.5 791.5V792.6M721.5 791.1V792.6M722.5 790.5V792.6M723.5 791.0V792.5M724.5 791.7V792.7M725.5 790.4V792.6M726.5 790.9V792.1M727.5 791.8V792.8M728.5 790.8V792.6M729.5 791.6V792.6M730.5 791.0V792.6M731.5 791.7V792.7M732.5 791.0V792.6M733.5 791.2V792.6M734.5 788.9V792.6M735.5 791.2V792.6M736.5 791.4V792.6M737.5 789.7V792.6M738.5 791.1V792.6M739.5 791.0V792.6M740.5 791.2V792.2M741.5 791.3V792.4M742.5 791.2V792.6M743.5 791.1V792.2M744.5 788.2V792.6M745.5 791.4V792.6M746.5 791.7V792.7M747.5 790.0V792.6M748.5 791.4V792.6M749.5 789.5V792.6M750.5 790.8V792.6M751.5 790.8V792.6M752.5 791.4V792.6M753.5 791.8V792.8M754.5 791.3V792.5M755.5 791.6V792.6M756.5 791.7V792.7M757.5 791.8V792.8M758.5 791.7V792.7M759.5 792.1V793.1M760.5 790.7V792.6M761.5 791.4V792.6M762.5 791.8V792.8M763.5 792.2V793.2M764.5 791.7V792.7M765.5 792.0V793.0M766.5 792.3V793.3" stroke="#000" stroke-width="1" fill="none" shape-rendering="crispEdges"/><rect x="522" y="675" width="157" height="3" fill="#800000"/><rect x="521" y="661" width="3" height="30" fill="#800000"/><rect x="677" y="661" width="3" height="30" fill="#800000"/></svg><!--/PLOTS-->
<!-- ID table -->
<div class="a" style="left:8px;top:156px;width:372px;height:70px;border:1px solid #000"></div>
<div class="a" style="left:9px;top:191px;width:372px;height:2px;background:#000"></div>
<div class="a" style="left:194px;top:157px;width:2px;height:70px;background:#000"></div>
<div class="a" style="left:10px;top:161px;font-family:'Liberation Serif',serif;font-size:25px;color:#000">ID</div>
<div class="a" style="left:10px;top:197px;font-family:'Liberation Serif',serif;font-size:25px;color:#000;letter-spacing:0.4px">Iteration #</div>
<div class="a" style="left:196px;width:185px;text-align:center;top:161px;font-family:'Liberation Serif',serif;font-size:25px;font-weight:bold;color:#000">Jane Doe</div>
<div class="a" style="left:196px;width:185px;text-align:center;top:195px;font-family:'Liberation Serif',serif;font-size:25px;font-weight:bold;color:#000">2</div>
<!-- axis labels -->
<div class="a lbl" style="left:36px;width:248px;text-align:center;top:492px">V500C-A</div>
<div class="a lbl" style="left:358px;width:248px;text-align:center;top:492px">BV605-A</div>
<div class="a lbl" style="left:680px;width:248px;text-align:center;top:492px">PerCP-Cy5-5-A</div>
<div class="a lbl" style="left:36px;width:248px;text-align:center;top:800px">BV605-A</div>
<div class="a lbl" style="left:363px;width:405px;text-align:center;top:804px">APC-A</div>
<div class="a lbl" style="left:-84px;width:200px;text-align:center;top:354px;transform:rotate(-90deg)">SSC-A</div>
<div class="a lbl" style="left:238px;width:200px;text-align:center;top:354px;transform:rotate(-90deg)">BV421-A</div>
<div class="a lbl" style="left:559px;width:200px;text-align:center;top:354px;transform:rotate(-90deg)">PE-A</div>
<div class="a lbl" style="left:-84px;width:200px;text-align:center;top:662px;transform:rotate(-90deg)">FITC-A</div>
<div class="a lbl" style="left:243px;width:200px;text-align:center;top:664px;transform:rotate(-90deg)">Count</div>
<div class="a lbl" style="left:683px;top:245px">0.33%</div>
<div class="a lbl" style="left:882px;top:245px">1.90%</div>
<div class="a lbl" style="left:683px;top:464px">97.55%</div>
<div class="a lbl" style="left:888px;top:464px">0.22%</div>
<div class="a lbl" style="left:139px;top:647px;color:#008000;line-height:15px">Gate 4<br>97.08%</div>
<div class="a lbl" style="left:536px;top:635px;color:#800000">M1</div>


<!-- gate legend -->
<svg class="a" style="left:790px;top:550px" width="110" height="76" viewBox="790 550 110 76">
 <rect x="794.5" y="556.5" width="8" height="8" rx="1.5" fill="#f4f4f4" stroke="#9a9a9a"/>
 <rect x="796" y="560" width="5" height="1" fill="#3050a0"/>
 <g fill="#a0a0a0">
  <rect x="804" y="560" width="1" height="1"/><rect x="806" y="560" width="1" height="1"/><rect x="808" y="560" width="1" height="1"/>
  <rect x="816" y="571" width="1" height="1"/><rect x="816" y="573" width="1" height="1"/><rect x="816" y="575" width="1" height="1"/><rect x="816" y="577" width="1" height="1"/><rect x="816" y="579" width="1" height="1"/><rect x="816" y="581" width="1" height="1"/><rect x="816" y="583" width="1" height="1"/><rect x="816" y="585" width="1" height="1"/><rect x="816" y="587" width="1" height="1"/><rect x="816" y="589" width="1" height="1"/><rect x="816" y="591" width="1" height="1"/><rect x="816" y="593" width="1" height="1"/><rect x="816" y="595" width="1" height="1"/><rect x="816" y="597" width="1" height="1"/><rect x="816" y="599" width="1" height="1"/><rect x="816" y="601" width="1" height="1"/><rect x="816" y="603" width="1" height="1"/><rect x="816" y="605" width="1" height="1"/><rect x="816" y="607" width="1" height="1"/><rect x="816" y="609" width="1" height="1"/><rect x="816" y="611" width="1" height="1"/><rect x="816" y="613" width="1" height="1"/>
  <rect x="818" y="578" width="1" height="1"/><rect x="820" y="578" width="1" height="1"/><rect x="822" y="578" width="1" height="1"/><rect x="824" y="578" width="1" height="1"/>
  <rect x="818" y="596" width="1" height="1"/><rect x="820" y="596" width="1" height="1"/><rect x="822" y="596" width="1" height="1"/><rect x="824" y="596" width="1" height="1"/>
  <rect x="818" y="614" width="1" height="1"/><rect x="820" y="614" width="1" height="1"/><rect x="822" y="614" width="1" height="1"/><rect x="824" y="614" width="1" height="1"/>
 </g>
 <rect x="811.5" y="553.5" width="15" height="15" fill="#ff0000" stroke="#000"/>
 <rect x="829.5" y="571.5" width="15" height="15" fill="#0000ff" stroke="#000"/>
 <rect x="829.5" y="589.5" width="15" height="15" fill="#800080" stroke="#000"/>
 <rect x="829.5" y="607.5" width="15" height="15" fill="#008000" stroke="#000"/>
</svg>
<div class="a" style="left:833px;top:555px;font-size:11px;color:#000">Gate 1</div>
<div class="a" style="left:851px;top:573px;font-size:11px;color:#000">Gate 2</div>
<div class="a" style="left:851px;top:591px;font-size:11px;color:#000">Gate 3</div>
<div class="a" style="left:851px;top:609px;font-size:11px;color:#000">Gate 4</div>
<!-- gate stats table -->
<div class="a" style="left:918px;top:519px;width:131px;height:131px;background:#fff"></div>
<svg class="a" style="left:917px;top:518px" width="135" height="135" viewBox="917 518 135 135">
 <rect x="919" y="520" width="130" height="34" fill="#f0f0f0"/>
 <rect x="918" y="519" width="132" height="1" fill="#7b7b7b"/>
 <rect x="918" y="519" width="1" height="131" fill="#a8a8a8"/>
 <rect x="1049" y="519" width="1" height="131" fill="#a8a8a8"/>
 <rect x="918" y="649" width="132" height="1" fill="#a8a8a8"/>
 <rect x="920" y="521" width="1" height="32" fill="#9a9a9a"/>
 <rect x="961" y="521" width="1" height="129" fill="#a8a8a8"/>
 <rect x="1004" y="521" width="1" height="129" fill="#a8a8a8"/>
 <rect x="918" y="553" width="132" height="2" fill="#a8a8a8"/>
 <rect x="918" y="573" width="132" height="1" fill="#a8a8a8"/>
 <rect x="918" y="592" width="132" height="1" fill="#a8a8a8"/>
 <rect x="918" y="611" width="132" height="1" fill="#a8a8a8"/>
 <rect x="918" y="630" width="132" height="1" fill="#a8a8a8"/>
</svg>
<div class="a" style="left:922px;top:532px;font-size:10.6px;color:#000">Gate</div>
<div class="a" style="left:964px;top:524px;font-size:10.6px;color:#000;line-height:14px">#&nbsp;of<br>Events</div>
<div class="a" style="left:1008px;top:524px;font-size:10.6px;color:#000;line-height:14px">%&nbsp;of all<br>cells</div>
<div class="a" style="left:922px;top:555px;font-size:10.6px;color:#000;line-height:19px">None<br>Gate 1<br>Gate 2<br>Gate 3<br>Gate 4</div>
<div class="a" style="left:964px;top:555px;font-size:10.6px;color:#000;line-height:19px">79028<br>60889<br>1293<br>59041<br>59114</div>
<div class="a" style="left:1007px;top:555px;font-size:10.6px;color:#000;line-height:19px">100.00<br>77.05<br>1.64<br>74.71<br>74.80</div>
<!-- marker stats table -->
<svg class="a" style="left:385px;top:844px" width="366" height="70" viewBox="385 844 366 70">
 <rect x="387" y="846" width="361" height="47" fill="#f0f0f0"/>
 <rect x="386" y="845" width="363" height="1" fill="#7b7b7b"/>
 <rect x="386" y="845" width="1" height="68" fill="#a8a8a8"/>
 <rect x="748" y="845" width="1" height="68" fill="#a8a8a8"/>
 <rect x="386" y="912" width="363" height="1" fill="#a8a8a8"/>
 <rect x="388" y="847" width="1" height="45" fill="#9a9a9a"/>
 <g fill="#a8a8a8">
 <rect x="430" y="847" width="1" height="66"/><rect x="473" y="847" width="1" height="66"/><rect x="511" y="847" width="1" height="66"/><rect x="561" y="847" width="1" height="66"/><rect x="599" y="847" width="1" height="66"/><rect x="654" y="847" width="1" height="66"/><rect x="704" y="847" width="1" height="66"/>
 </g>
 <rect x="386" y="892" width="363" height="2" fill="#a8a8a8"/>
</svg>
<div class="a" style="left:391px;top:864px;font-size:10.6px;color:#000">Marker</div>
<div class="a" style="left:433px;top:856px;font-size:10.6px;color:#000;line-height:14px">#&nbsp;of<br>Events</div>
<div class="a" style="left:477px;top:849px;font-size:10.6px;color:#000;line-height:14px">%&nbsp;of<br>gated<br>cells</div>
<div class="a" style="left:515px;top:864px;font-size:10.6px;color:#000">Median</div>
<div class="a" style="left:565px;top:864px;font-size:10.6px;color:#000">RCV</div>
<div class="a" style="left:603px;top:856px;font-size:10.6px;color:#000;line-height:14px">Standard<br>Deviation</div>
<div class="a" style="left:658px;top:864px;font-size:10.6px;color:#000">BD-rSD</div>
<div class="a" style="left:708px;top:864px;font-size:10.6px;color:#000">BD-rCV</div>
<div class="a" style="left:390px;top:897px;font-size:10.6px;color:#000">M1</div>
<div class="a" style="left:433px;top:897px;font-size:10.6px;color:#000">55114</div>
<div class="a" style="left:476px;top:897px;font-size:10.6px;color:#000">90.52</div>
<div class="a" style="left:514px;top:897px;font-size:10.6px;color:#000">3635.73</div>
<div class="a" style="left:564px;top:897px;font-size:10.6px;color:#000">91.51</div>
<div class="a" style="left:602px;top:897px;font-size:10.6px;color:#000">4155.64</div>
<div class="a" style="left:657px;top:897px;font-size:10.6px;color:#000">2904.72</div>
<div class="a" style="left:707px;top:897px;font-size:10.6px;color:#000">79.89</div>
<!-- cursor -->
<svg class="a" style="left:36px;top:12px" width="18" height="24" viewBox="0 0 18 24">
 <path d="M1 0.8 L1 17.5 L4.9 13.9 L7.8 20.8 L10.6 19.7 L7.8 13.2 L13.2 13.2z" fill="#fff" stroke="#000" stroke-width="1.1" stroke-linejoin="round"/>
</svg>
</body></html>
